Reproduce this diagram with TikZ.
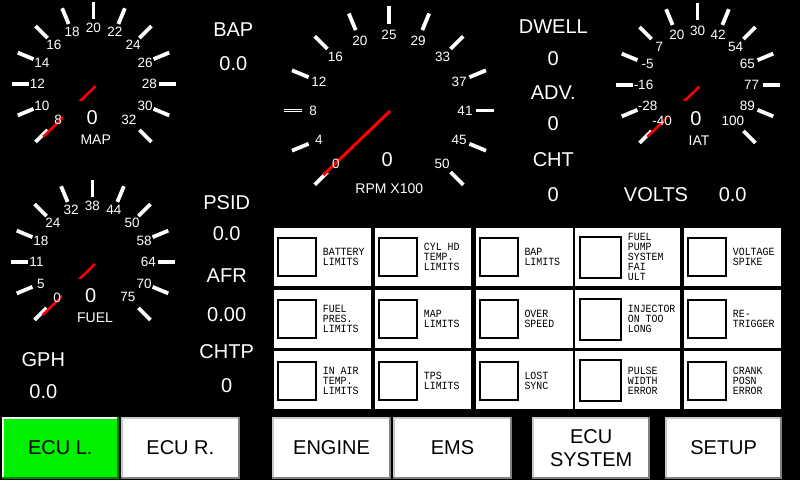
\documentclass[tikz,border=0pt]{standalone}
\usepackage{fontspec}
\setmainfont{Liberation Sans}
\newfontfamily\monof[FakeStretch=0.9]{Liberation Mono}
\definecolor{btngreen}{RGB}{0,240,0}
\definecolor{btndkgreen}{RGB}{0,128,0}
\definecolor{btnlight}{RGB}{200,200,200}
\definecolor{btndark}{RGB}{128,128,128}
\tikzset{
  gtick/.style={white, line width=3.8pt},
  needle/.style={red, line width=2.5pt},
  sclabel/.style={text=white, font=\fontsize{13.5}{13.5}\selectfont, inner sep=0pt},
  valbox/.style={fill=black, text=white, font=\fontsize{20}{20}\selectfont, minimum width=58pt, minimum height=34pt, inner sep=0pt},
  plainval/.style={text=white, font=\fontsize{20}{20}\selectfont, inner sep=0pt},
  gname/.style={text=white, font=\fontsize{14}{14}\selectfont, inner sep=0pt},
  dlabel/.style={text=white, font=\fontsize{20}{20}\selectfont, inner sep=0pt},
  lamp/.style={draw=black, line width=2pt, fill=white, inner sep=0pt},
  wtext/.style={anchor=west, align=left, inner sep=0pt, text=black, font=\monof\fontsize{11}{10}\selectfont},
  btntext/.style={text=black, align=center, inner sep=0pt, font=\fontsize{20}{23}\selectfont},
}
% ticks: name cx cy rin rout
\newcommand\gaugeticks[5]{%
  \foreach \i in {0,...,12}{%
    \pgfmathsetmacro\ang{225-22.5*\i}
    \draw[gtick] ({#2+#4*cos(\ang)},{#3-#4*sin(\ang)}) -- ({#2+#5*cos(\ang)},{#3-#5*sin(\ang)});
  }}
% labels: name cx cy r rbottom list
\newcommand\gaugelabels[6]{%
  \foreach \t [count=\i from 0] in {#6}{%
    \pgfmathsetmacro\ang{225-22.5*\i}
    \pgfmathsetmacro\rr{(\i==0 || \i==12) ? #5 : #4}
    \node[sclabel] (#1-\i) at ({#2+\rr*cos(\ang)},{#3-\rr*sin(\ang)}) {\t};
  }}
% button: name x1 y1 x2 y2 face light dark text
\newcommand\bevbtn[9]{%
  \fill[#8] (#2,#3) rectangle (#4,#5);
  \fill[#7] (#2,#3) rectangle ({#4-2},{#5-2});
  \fill[#6] ({#2+2},{#3+2}) rectangle ({#4-2},{#5-2});
  \node[btntext] (#1) at ({(#2+#4)/2},{(#3+#5)/2}) {#9};}
% warning cell: name x0 x1 y0 y1 lampsize lampoffset textoffset text
\newcommand\wcell[9]{%
  \fill[white] (#2,#4) rectangle (#3,#5);
  \node[lamp, minimum width={#6-2}, minimum height={#6-2}] (#1-lamp) at ({#2+#7+#6/2},{(#4+#5)/2+0.5}) {};
  \node[wtext] (#1) at ({#2+#8},{(#4+#5)/2+0.5}) {#9};}
\begin{document}
\begin{tikzpicture}[x=1pt, y=-1pt]
\useasboundingbox (0,0) rectangle (800,480);
\fill[black] (0,0) rectangle (800,480);

% ---------------- MAP gauge
\gaugeticks{map}{93.5}{84}{65}{82}
\draw[needle] (95.7,86) -- (43.3,136.7);
\node[valbox] (mapval) at (92.3,117.8) {0};
\gaugelabels{map}{93.5}{84}{56}{50}{8,10,12,14,16,18,20,22,24,26,28,30,32}
\node[gname] (mapname) at (95.7,140) {MAP};

% ---------------- FUEL gauge
\gaugeticks{fuel}{92.5}{262}{65}{82}
\draw[needle] (95,264) -- (42.7,315);
\node[valbox] (fuelval) at (90.7,295.7) {0};
\gaugelabels{fuel}{92.5}{262}{56}{50}{0,5,11,18,24,32,38,44,50,58,64,70,75}
\node[gname] (fuelname) at (95,317.7) {FUEL};

% ---------------- IAT gauge
\gaugeticks{iat}{697.5}{85}{65}{82}
\draw[needle] (699.3,86.7) -- (647.3,136.7);
\node[valbox] (iatval) at (696,118.3) {0};
\gaugelabels{iat}{697.5}{85}{54}{50}{-40,-28,-16,-5,7,20,30,42,54,65,77,89,100}
\node[gname] (iatname) at (699,141) {IAT};

% ---------------- RPM gauge
\gaugeticks{rpm}{389}{110.5}{87}{105}
\draw[black, line width=1pt] (283,110.8) -- (303,110.8);
\draw[needle, line width=3pt] (390,111) -- (323.3,175);
\node[plainval] (rpmval) at (387.3,160) {0};
\gaugelabels{rpm}{389}{111}{76}{75}{0,4,8,12,16,20,25,29,33,37,41,45,50}
\node[gname] (rpmname) at (389.3,188.3) {RPM X100};

% ---------------- digital readouts
\node[dlabel] (bap) at (233.3,30) {BAP};
\node[dlabel] (bapv) at (233.3,63.3) {0.0};
\node[dlabel] (psid) at (226.7,202.3) {PSID};
\node[dlabel] (psidv) at (226.7,234) {0.0};
\node[dlabel] (afr) at (226.7,276) {AFR};
\node[dlabel] (afrv) at (226.7,315) {0.00};
\node[dlabel] (chtp) at (226.7,351.7) {CHTP};
\node[dlabel] (chtpv) at (226.7,385.7) {0};
\node[dlabel] (gph) at (43.3,360) {GPH};
\node[dlabel] (gphv) at (43.3,391.7) {0.0};
\node[dlabel] (dwell) at (553.3,26.7) {DWELL};
\node[dlabel] (dwellv) at (553.3,58.3) {0};
\node[dlabel] (adv) at (553.3,92.7) {ADV.};
\node[dlabel] (advv) at (553.3,123.3) {0};
\node[dlabel] (cht) at (553.3,159.3) {CHT};
\node[dlabel] (chtv) at (553.3,195) {0};
\node[dlabel] (volts) at (656,195) {VOLTS};
\node[dlabel] (voltsv) at (732.7,195) {0.0};

% ---------------- warning panel
% row 1
\wcell{w11}{274}{371}{228}{285.5}{40}{3.3}{48.7}{BATTERY\\LIMITS}
\wcell{w12}{375}{471}{228}{285.5}{40}{3.3}{48.7}{CYL HD\\TEMP.\\LIMITS}
\wcell{w13}{476}{573}{228}{285.5}{40}{3}{48.3}{BAP\\LIMITS}
\wcell{w14}{575}{680}{228}{285.5}{43}{4}{52.7}{FUEL\\PUMP\\SYSTEM\\FAI\\ULT}
\wcell{w15}{684}{781}{228}{285.5}{40}{3.3}{48.7}{VOLTAGE\\SPIKE}
% row 2
\wcell{w21}{274}{371}{289.5}{347.5}{40}{3.3}{48.7}{FUEL\\PRES.\\LIMITS}
\wcell{w22}{375}{471}{289.5}{347.5}{40}{3.3}{48.7}{MAP\\LIMITS}
\wcell{w23}{476}{573}{289.5}{347.5}{40}{3}{48.3}{OVER\\SPEED}
\wcell{w24}{575}{680}{289.5}{347.5}{43}{4}{52.7}{INJECTOR\\ON TOO\\LONG}
\wcell{w25}{684}{781}{289.5}{347.5}{40}{3.3}{48.7}{RE-\\TRIGGER}
% row 3
\wcell{w31}{274}{371}{351}{409}{40}{3.3}{48.7}{IN AIR\\TEMP.\\LIMITS}
\wcell{w32}{375}{471}{351}{409}{40}{3.3}{48.7}{TPS\\LIMITS}
\wcell{w33}{476}{573}{351}{409}{40}{3}{48.3}{LOST\\SYNC}
\wcell{w34}{575}{680}{351}{409}{43}{4}{52.7}{PULSE\\WIDTH\\ERROR}
\wcell{w35}{684}{781}{351}{409}{40}{3.3}{48.7}{CRANK\\POSN\\ERROR}

% ---------------- buttons
\bevbtn{ecul}{1.7}{417.3}{119}{478.7}{btngreen}{white}{btndkgreen}{ECU L.}
\bevbtn{ecur}{120.7}{417.3}{240}{478.7}{white}{btnlight}{btndark}{ECU R.}
\bevbtn{engine}{272.3}{417.3}{390.7}{478.7}{white}{btnlight}{btndark}{ENGINE}
\bevbtn{ems}{393.3}{417.3}{511.7}{478.7}{white}{btnlight}{btndark}{EMS}
\bevbtn{ecusys}{532.3}{417.3}{650}{478.7}{white}{btnlight}{btndark}{ECU\\SYSTEM}
\bevbtn{setup}{665}{417.3}{782.3}{478.7}{white}{btnlight}{btndark}{SETUP}
\end{tikzpicture}
\end{document}
